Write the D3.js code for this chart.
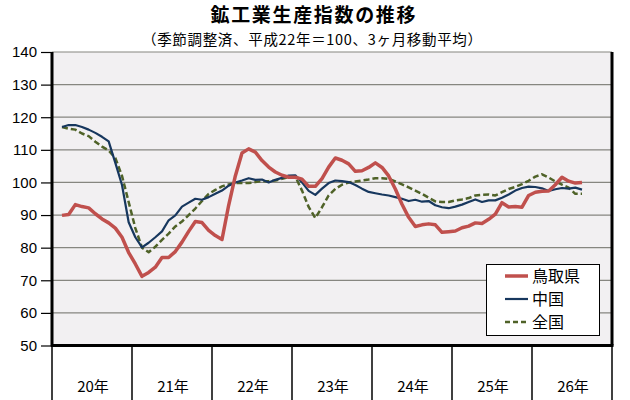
<!DOCTYPE html>
<html><head><meta charset="utf-8">
<script src="https://cdn.jsdelivr.net/npm/d3@7"></script>
<style>
html,body{margin:0;padding:0;background:#fff;}
svg{display:block;}
</style></head>
<body>
<svg id="c" width="630" height="400"></svg>
<script>
// ---- data ----
const years = ["20年","21年","22年","23年","24年","25年","26年"];
const months = [];
years.forEach(y => { for (let m = 1; m <= 12; m++) months.push(y + m + "月"); });
const yTicks = [50,60,70,80,90,100,110,120,130,140];
const seriesNames = ["鳥取県","中国","全国"];
const tottori = [null,
 89.9,90.2,93.2,92.6,92.2,90.4,88.8,87.6,86.0,83.2,78.5,
 75.0,71.2,72.4,74.0,77.0,77.0,78.8,81.7,85.0,88.0,87.7,85.3,
 83.7,82.5,93.0,102.0,109.0,110.3,109.3,106.7,104.7,103.2,102.2,101.6,
 101.6,101.0,98.8,98.8,101.2,104.7,107.5,106.8,105.7,103.4,103.6,104.6,
 106.0,104.6,102.0,98.0,93.3,89.3,86.5,87.0,87.3,87.0,84.7,84.9,
 85.1,86.1,86.6,87.6,87.4,88.7,90.3,93.8,92.5,92.6,92.4,96.0,
 97.0,97.3,97.4,99.3,101.6,100.4,99.8,100.0,null,null,null,null];
const chugoku = [null,
 117.0,117.6,117.6,117.0,116.2,115.2,114.0,112.6,106.0,99.2,87.8,
 83.2,80.1,81.5,83.2,85.0,88.4,89.9,92.6,93.8,95.0,94.7,95.5,
 96.5,97.5,99.0,100.0,100.6,101.3,100.8,100.9,100.0,100.8,101.4,102.1,
 102.2,100.0,97.4,96.2,98.1,99.8,100.6,100.4,100.1,99.2,98.1,97.1,
 96.7,96.3,96.0,95.5,95.0,94.3,94.7,94.1,94.3,93.0,92.4,92.1,
 92.6,93.2,94.0,94.8,94.0,94.5,94.5,95.3,96.3,97.5,98.3,98.7,
 98.6,98.2,97.4,97.9,98.3,98.1,98.4,97.8,null,null,null,null];
const zenkoku = [null,
 117.0,116.5,116.2,115.0,114.2,112.5,111.0,109.8,107.5,102.0,94.0,
 86.0,80.0,78.6,80.3,82.4,84.3,86.5,88.0,90.0,92.0,94.3,96.5,
 97.7,98.8,99.4,99.8,99.8,99.8,100.1,100.4,100.4,100.6,101.1,101.6,
 101.8,97.5,92.5,89.1,92.4,96.0,98.0,99.3,100.0,100.3,100.6,100.9,
 101.3,101.3,101.1,100.3,99.4,98.5,97.5,96.5,95.3,94.2,94.0,94.0,
 94.5,94.8,95.2,96.0,96.2,96.3,96.0,97.0,98.0,98.6,99.5,100.5,
 101.8,102.5,101.5,100.3,99.3,98.4,96.5,96.5,null,null,null,null];

// ---- layout ----
const L = 52, R = 612, T = 52, B = 345.5;
const svg = d3.select("#c");
const jp = "'Noto Sans CJK JP','Noto Sans CJK SC',sans-serif";

const x = d3.scaleBand().domain(months).range([L, R]).padding(0);
const xYear = d3.scaleBand().domain(years).range([L, R]).padding(0);
const y = d3.scaleLinear().domain([50, 140]).range([B, T]);

// plot background
svg.append("rect").attr("x", L).attr("y", T).attr("width", R - L).attr("height", B - T)
  .attr("fill", "#F2F0F2");

// gridlines
svg.append("g").selectAll("line").data(yTicks.filter(d => d > 50)).join("line")
  .attr("x1", L).attr("x2", R).attr("y1", d => y(d)).attr("y2", d => y(d))
  .attr("stroke", "#868680").attr("stroke-width", 1.2);

// y axis
const yAxis = d3.axisLeft(y).tickValues(yTicks).tickSize(11).tickPadding(4);
const gy = svg.append("g").attr("transform", `translate(${L},0)`).call(yAxis);
gy.select(".domain").remove();
gy.selectAll(".tick line").attr("stroke", "#000").attr("stroke-width", 1.2);
gy.selectAll(".tick text").attr("font-family", "'Liberation Sans',Arial,sans-serif")
  .attr("font-size", 15).attr("fill", "#000").attr("x", -15);

// x axis year boxes
const xg = svg.append("g");
const bounds = years.map(yr => xYear(yr)).concat([R]);
xg.selectAll("line").data(bounds).join("line")
  .attr("x1", d => d).attr("x2", d => d).attr("y1", B).attr("y2", 400)
  .attr("stroke", "#000").attr("stroke-width", 1.5);
xg.selectAll("text").data(years).join("text")
  .attr("x", d => xYear(d) + xYear.bandwidth() / 2 + 1)
  .attr("y", 392).attr("text-anchor", "middle")
  .attr("font-family", jp).attr("font-size", 15).attr("fill", "#000")
  .text(d => d);

// frame: left, bottom, right black
svg.append("line").attr("x1", L).attr("x2", L).attr("y1", T).attr("y2", B + 1)
  .attr("stroke", "#000").attr("stroke-width", 3);
svg.append("line").attr("x1", L - 1).attr("x2", R + 1.5).attr("y1", B).attr("y2", B)
  .attr("stroke", "#000").attr("stroke-width", 3);
svg.append("line").attr("x1", R).attr("x2", R).attr("y1", T).attr("y2", B)
  .attr("stroke", "#000").attr("stroke-width", 3);

// lines
const line = d3.line()
  .defined(d => d.v != null)
  .x(d => x(d.m) + x.bandwidth() / 2)
  .y(d => y(d.v));
const mk = arr => months.map((m, i) => ({ m, v: arr[i] }));
const series = [
  { name: seriesNames[0], data: tottori, color: "#C0504D", w: 3.5, dash: null },
  { name: seriesNames[1], data: chugoku, color: "#17375E", w: 2.2, dash: null },
  { name: seriesNames[2], data: zenkoku, color: "#4F6228", w: 2.5, dash: "6,3" }
];
const drawOrder = [2, 1, 0];
drawOrder.forEach(k => {
  const s = series[k];
  svg.append("path").datum(mk(s.data)).attr("d", line)
    .attr("fill", "none").attr("stroke", s.color).attr("stroke-width", s.w)
    .attr("stroke-linejoin", "round")
    .attr("stroke-dasharray", s.dash);
});

// legend
const lg = svg.append("g");
lg.append("rect").attr("x", 486.5).attr("y", 264.5).attr("width", 113).attr("height", 71)
  .attr("fill", "#fff").attr("stroke", "#000").attr("stroke-width", 1);
series.forEach((s, i) => {
  const cy = 276 + i * 23;
  lg.append("line").attr("x1", 505).attr("x2", 528).attr("y1", cy).attr("y2", cy)
    .attr("stroke", s.color).attr("stroke-width", s.w).attr("stroke-dasharray", s.dash ? "5,3" : null);
  lg.append("text").attr("x", 532).attr("y", cy + 5.5)
    .attr("font-family", jp).attr("font-size", 16).attr("fill", "#000").text(s.name);
});

// titles
svg.append("text").attr("x", 313).attr("y", 22).attr("text-anchor", "middle")
  .attr("font-family", jp).attr("font-weight", "bold").attr("font-size", 19).attr("fill", "#000")
  .attr("textLength", 205).attr("lengthAdjust", "spacing")
  .text("鉱工業生産指数の推移");
svg.append("text").attr("x", 312).attr("y", 44.5).attr("text-anchor", "middle")
  .attr("font-family", jp).attr("font-size", 14.5).attr("fill", "#000")
  .attr("textLength", 340).attr("lengthAdjust", "spacing")
  .text("（季節調整済、平成22年＝100、3ヶ月移動平均）");
</script>
</body></html>
